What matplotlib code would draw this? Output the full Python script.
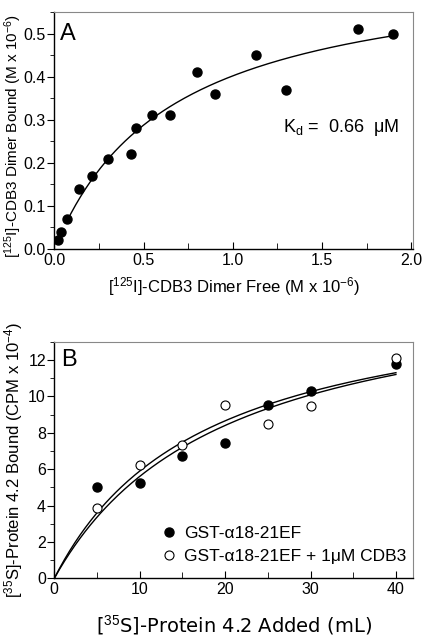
import numpy as np
import matplotlib
matplotlib.use("Agg")
import matplotlib.pyplot as plt
from matplotlib.ticker import MultipleLocator, FormatStrFormatter

# ---- Panel A data ----
a_free = [0.02, 0.04, 0.07, 0.14, 0.21, 0.30, 0.43, 0.46, 0.55, 0.65, 0.80, 0.90, 1.13, 1.30, 1.70, 1.90]
a_bound = [0.02, 0.04, 0.07, 0.14, 0.17, 0.21, 0.22, 0.28, 0.31, 0.31, 0.41, 0.36, 0.45, 0.37, 0.51, 0.50]
a_kd = 0.66
a_bmax = 0.667
a_fit_range = (0.065, 1.9)

# ---- Panel B data ----
b_added = [5, 10, 15, 20, 25, 30, 40]
b_gst = [5.0, 5.25, 6.7, 7.45, 9.55, 10.3, 11.8]
b_gst_cdb3 = [3.85, 6.2, 7.3, 9.55, 8.5, 9.45, 12.1]
b_fit_gst = (16.8, 20.0)       # (Bmax, K)
b_fit_cdb3 = (16.27, 17.6)
b_labels = ["GST-\u03b118-21EF", "GST-\u03b118-21EF + 1\u03bcM CDB3"]

plt.rcParams['font.family'] = ['Liberation Sans', 'DejaVu Sans']
plt.rcParams['mathtext.fontset'] = 'custom'
plt.rcParams['mathtext.rm'] = 'Liberation Sans'
plt.rcParams['mathtext.it'] = 'Liberation Sans'

fig = plt.figure(figsize=(4.22, 6.36), dpi=100)
axA = fig.add_axes([0.1287, 0.6085, 0.850, 0.3726])
axB = fig.add_axes([0.1287, 0.0907, 0.850, 0.372])

def style(ax):
    for s in ['top', 'right']:
        ax.spines[s].set_color('#888888')
        ax.spines[s].set_linewidth(0.8)
    for s in ['left', 'bottom']:
        ax.spines[s].set_color('black')
        ax.spines[s].set_linewidth(1.0)
    ax.tick_params(axis='y', which='both', direction='out', left=True, right=False, labelsize=11.5, pad=1)
    ax.tick_params(axis='y', which='major', length=5)
    ax.tick_params(axis='y', which='minor', length=3)
    ax.tick_params(axis='x', which='both', direction='in', top=False, labelsize=11.5, pad=3)
    ax.tick_params(axis='x', which='major', length=5)
    ax.tick_params(axis='x', which='minor', length=4)

# Panel A
style(axA)
axA.plot(a_free, a_bound, 'o', color='black', ms=6.5, zorder=3)
xf = np.linspace(a_fit_range[0], a_fit_range[1], 200)
axA.plot(xf, a_bmax * xf / (a_kd + xf), color='black', lw=1.0)
axA.set_xlim(0, 2.01)
axA.set_ylim(0, 0.55)
axA.xaxis.set_major_locator(MultipleLocator(0.5))
axA.xaxis.set_minor_locator(MultipleLocator(0.25))
axA.yaxis.set_major_locator(MultipleLocator(0.1))
axA.yaxis.set_minor_locator(MultipleLocator(0.05))
axA.xaxis.set_major_formatter(FormatStrFormatter('%.1f'))
axA.yaxis.set_major_formatter(FormatStrFormatter('%.1f'))
axA.set_xlabel("[$^{125}$I]-CDB3 Dimer Free (M x 10$^{-6}$)", fontsize=12, labelpad=5)
axA.set_ylabel("[$^{125}$I]-CDB3 Dimer Bound (M x 10$^{-6}$)", fontsize=11)
axA.yaxis.set_label_coords(-0.085, 0.475)
axA.text(0.03, 0.5, "A", fontsize=17, va='center', ha='left')
axA.text(1.28, 0.272, "K$_{d}$ =  0.66  \u03bcM", fontsize=13, va='baseline', ha='left')

# Panel B
style(axB)
xb = np.linspace(0, 40, 200)
axB.plot(xb, b_fit_gst[0] * xb / (b_fit_gst[1] + xb), color='black', lw=1.0)
axB.plot(xb, b_fit_cdb3[0] * xb / (b_fit_cdb3[1] + xb), color='black', lw=1.0)
axB.plot(b_added, b_gst, 'o', color='black', ms=6.5, zorder=3, label=b_labels[0])
axB.plot(b_added, b_gst_cdb3, 'o', mfc='white', mec='black', mew=0.8, ms=6.5, zorder=4, label=b_labels[1])
axB.set_xlim(0, 42)
axB.set_ylim(0, 13)
axB.xaxis.set_major_locator(MultipleLocator(10))
axB.xaxis.set_minor_locator(MultipleLocator(5))
axB.yaxis.set_major_locator(MultipleLocator(2))
axB.yaxis.set_minor_locator(MultipleLocator(1))
axB.set_ylabel("[$^{35}$S]-Protein 4.2 Bound (CPM x 10$^{-4}$)", fontsize=12, labelpad=2)
axB.set_xlabel("[$^{35}$S]-Protein 4.2 Added (mL)", fontsize=14, labelpad=11,
               family=['DejaVu Sans'])
axB.text(0.8, 12.0, "B", fontsize=17, va='center', ha='left')
axB.legend(loc='lower left', bbox_to_anchor=(0.27, 0.03), frameon=False, fontsize=12.5,
           handletextpad=0.3, labelspacing=0.45, borderaxespad=0, handlelength=1.2)

fig.savefig("out.png", dpi=100)
